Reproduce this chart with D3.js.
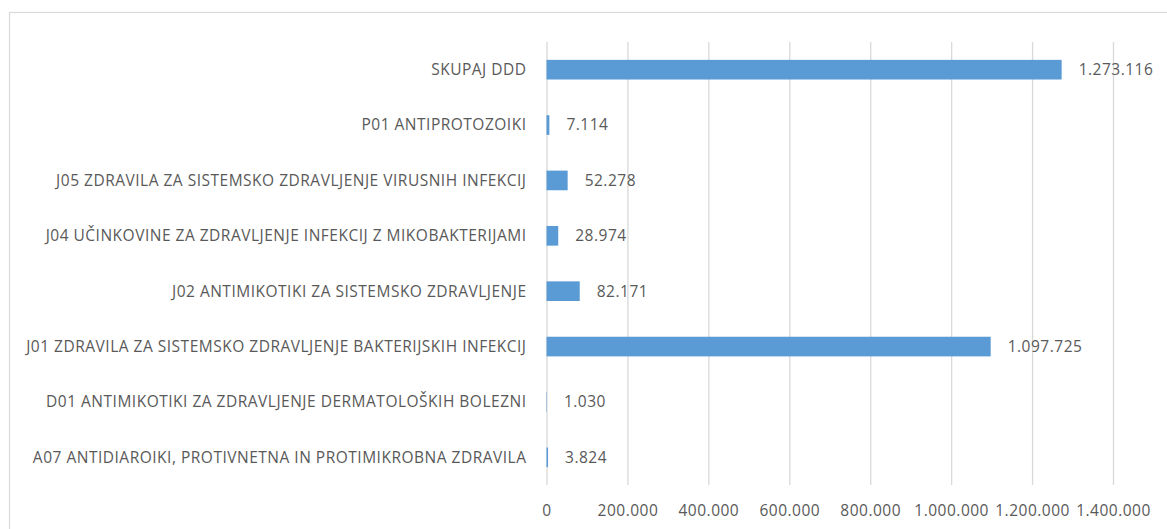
<!DOCTYPE html>
<html>
<head>
<meta charset="utf-8">
<script src="https://cdn.jsdelivr.net/npm/d3@7"></script>
<style>
  body { margin: 0; background: #fff; }
  text { font-family: "Open Sans", sans-serif; fill: #595959; letter-spacing: 0.5px; }
</style>
</head>
<body>
<div id="chart"></div>
<script>
var categories = [
  "SKUPAJ DDD",
  "P01 ANTIPROTOZOIKI",
  "J05 ZDRAVILA ZA SISTEMSKO ZDRAVLJENJE VIRUSNIH INFEKCIJ",
  "J04 UČINKOVINE ZA ZDRAVLJENJE INFEKCIJ Z MIKOBAKTERIJAMI",
  "J02 ANTIMIKOTIKI ZA SISTEMSKO ZDRAVLJENJE",
  "J01 ZDRAVILA ZA SISTEMSKO ZDRAVLJENJE BAKTERIJSKIH INFEKCIJ",
  "D01 ANTIMIKOTIKI ZA ZDRAVLJENJE DERMATOLOŠKIH BOLEZNI",
  "A07 ANTIDIAROIKI, PROTIVNETNA IN PROTIMIKROBNA ZDRAVILA"
];
var values = [1273116, 7114, 52278, 28974, 82171, 1097725, 1030, 3824];
var xTicks = [0, 200000, 400000, 600000, 800000, 1000000, 1200000, 1400000];

var svgWidth = 1167;
var svgHeight = 529;

var margin = { top: 42, right: 54, bottom: 44, left: 546.5 };
var width = svgWidth - margin.left - margin.right;
var height = svgHeight - margin.top - margin.bottom;

var locale = d3.formatLocale({ decimal: ",", thousands: ".", grouping: [3], currency: ["", ""] });
var fmt = locale.format(",");

var svg = d3
  .select("#chart")
  .append("svg")
  .attr("width", svgWidth)
  .attr("height", svgHeight);

// outer chart border (runs off the right and bottom edge)
svg
  .append("rect")
  .attr("x", 9.5)
  .attr("y", 12.5)
  .attr("width", svgWidth + 20)
  .attr("height", svgHeight + 20)
  .attr("fill", "none")
  .attr("stroke", "#d9d9d9")
  .attr("stroke-width", 1.2);

var chartGroup = svg
  .append("g")
  .attr("transform", `translate(${margin.left}, ${margin.top})`);

var xScale = d3
  .scaleLinear()
  .domain([0, 1400000])
  .range([0, width]);

var yScale = d3
  .scaleBand()
  .domain(categories)
  .range([0, height])
  .paddingInner(0.645)
  .paddingOuter(0.3225);

// x axis with gridlines
var xAxis = chartGroup
  .append("g")
  .attr("transform", `translate(0, ${height})`)
  .call(
    d3.axisBottom(xScale)
      .tickValues(xTicks)
      .tickFormat(fmt)
      .tickSizeInner(-height)
      .tickSizeOuter(0)
      .tickPadding(20)
  );

xAxis.select(".domain").remove();
xAxis.selectAll(".tick line").attr("stroke", "#d9d9d9").attr("stroke-width", 1.3);
xAxis.selectAll(".tick text")
  .attr("font-size", "15.5px")
  .attr("font-family", "Open Sans, sans-serif")
  .attr("fill", "#595959");

// category labels
chartGroup
  .selectAll(".catLabel")
  .data(categories)
  .enter()
  .append("text")
  .attr("class", "catLabel")
  .attr("x", -20)
  .attr("y", d => yScale(d) + yScale.bandwidth() / 2)
  .attr("dy", "0.35em")
  .attr("text-anchor", "end")
  .attr("font-size", "15.5px")
  .text(d => d);

// bars
chartGroup
  .selectAll("rect.bar")
  .data(values)
  .enter()
  .append("rect")
  .attr("class", "bar")
  .attr("x", xScale(0))
  .attr("y", (d, i) => yScale(categories[i]))
  .attr("width", d => xScale(d) - xScale(0))
  .attr("height", yScale.bandwidth())
  .attr("fill", "#5b9bd5");

// value labels
chartGroup
  .selectAll(".valLabel")
  .data(values)
  .enter()
  .append("text")
  .attr("class", "valLabel")
  .attr("x", d => xScale(d) + 17)
  .attr("y", (d, i) => yScale(categories[i]) + yScale.bandwidth() / 2)
  .attr("dy", "0.35em")
  .attr("font-size", "15.5px")
  .text(d => fmt(d));
</script>
</body>
</html>
